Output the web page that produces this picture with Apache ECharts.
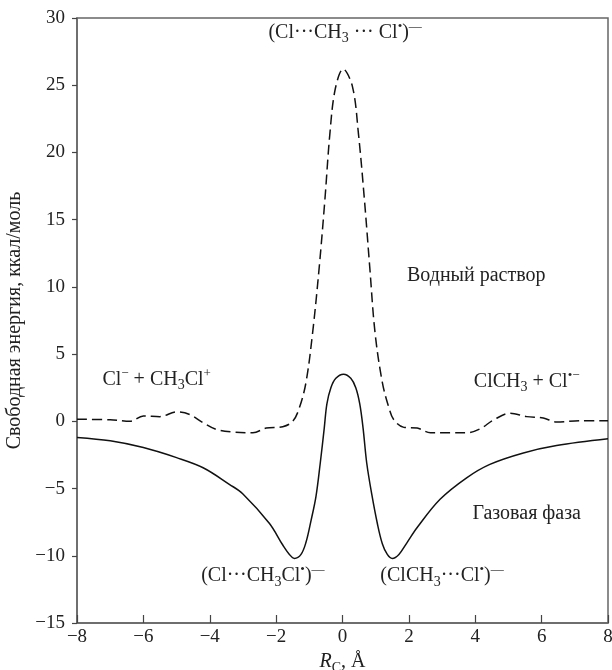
<!DOCTYPE html>
<html>
<head>
<meta charset="utf-8">
<script src="https://cdn.jsdelivr.net/npm/echarts@6/dist/echarts.min.js"></script>
<style>html,body{margin:0;padding:0;background:#fff}#c{width:612px;height:670px}</style>
</head>
<body>
<div id="c"></div>
<script>
// Aqueous solution (dashed)
var aqX = [-8, -7, -6.4, -6.0, -5.5, -5.0, -4.6, -4.2, -3.8, -3.3, -2.7, -2.3, -1.8, -1.5, -1.3, -1.1, -0.9, -0.7, -0.53, -0.38, -0.22, 0.02, 0.3, 0.48, 0.66, 0.82, 0.98, 1.2, 1.4, 1.55, 1.85, 2.25, 2.65, 3.25, 3.75, 4.15, 4.55, 5.05, 5.55, 6.05, 6.45, 7.15, 8];
var aqY = [0.15, 0.12, 0.0, 0.4, 0.35, 0.7, 0.5, -0.1, -0.6, -0.8, -0.85, -0.5, -0.4, 0.0, 1.0, 2.9, 6.6, 11.5, 16.5, 21.4, 24.7, 26.2, 24.9, 21.4, 16.5, 11.5, 6.6, 2.9, 1.0, 0.1, -0.45, -0.5, -0.85, -0.85, -0.85, -0.55, 0.1, 0.6, 0.35, 0.25, -0.05, 0.05, 0.05];
// Gas phase (solid)
var gasX = [-8, -7, -6, -5, -4.2, -3.4, -3.0, -2.2, -1.8, -1.6, -1.45, -1.25, -1.1, -0.95, -0.8, -0.67, -0.55, -0.47, -0.35, -0.2, 0.03, 0.25, 0.4, 0.52, 0.62, 0.73, 0.88, 1.05, 1.2, 1.35, 1.5, 1.7, 1.95, 2.25, 2.94, 3.74, 4.44, 5.45, 6.45, 8];
var gasY = [-1.2, -1.45, -1.95, -2.7, -3.45, -4.7, -5.4, -7.6, -9.2, -9.9, -10.2, -9.9, -9.0, -7.4, -5.6, -3.1, -0.5, 1.3, 2.5, 3.2, 3.5, 3.2, 2.5, 1.3, -0.5, -3.1, -5.4, -7.6, -9.1, -9.9, -10.2, -9.9, -9.0, -7.9, -5.8, -4.2, -3.2, -2.35, -1.8, -1.3];

var xTicks = [-8, -6, -4, -2, 0, 2, 4, 6, 8];
var yTicks = [-15, -10, -5, 0, 5, 10, 15, 20, 25, 30];

// Annotations (text, anchored in data coordinates)
var annText = [
  '{n|(Cl···CH}{sub|3}{n| ··· Cl}{sup|•}{n|)}{sup|—}',
  '{n|Водный раствор}',
  '{n|Cl}{sup|−}{n| + CH}{sub|3}{n|Cl}{sup|+}',
  '{n|ClCH}{sub|3}{n| + Cl}{sup|•−}',
  '{n|Газовая фаза}',
  '{n|(Cl···CH}{sub|3}{n|Cl}{sup|•}{n|)}{sup|—}',
  '{n|(ClCH}{sub|3}{n|···Cl}{sup|•}{n|)}{sup|—}'
];
var annX = [0.08, 4.03, -5.6, 5.55, 5.55, -2.4, 3.0];
var annY = [28.9, 10.8, 3.1, 2.95, -6.9, -11.5, -11.5];

var FONT = 'Liberation Serif';
var rich = {
  n: {fontFamily: FONT, fontSize: 20, color: '#222', lineHeight: 26, verticalAlign: 'middle'},
  sub: {fontFamily: FONT, fontSize: 14, color: '#222', lineHeight: 16, verticalAlign: 'bottom'},
  sup: {fontFamily: FONT, fontSize: 13, color: '#222', lineHeight: 16, verticalAlign: 'top'},
  i: {fontFamily: FONT, fontSize: 20, color: '#222', fontStyle: 'italic', lineHeight: 26, verticalAlign: 'middle'}
};

function zip(a, b) { return a.map(function (v, i) { return [v, b[i]]; }); }
function fmt(v) { return String(v).replace('-', '\u2212'); }

var chart = echarts.init(document.getElementById('c'), null, {renderer: 'canvas'});
var axisLine = {show: true, onZero: false, lineStyle: {color: '#666', width: 1.5}};
chart.setOption({
  animation: false,
  backgroundColor: '#fff',
  grid: {left: 77, right: 4, top: 18, bottom: 47, outerBoundsMode: 'none', containLabel: false,
         show: true, borderColor: '#666', borderWidth: 1.5, backgroundColor: 'transparent'},
  xAxis: {
    type: 'value', min: xTicks[0], max: xTicks[xTicks.length - 1], interval: 2,
    axisLine: axisLine,
    axisTick: {show: true, inside: true, length: 8, lineStyle: {color: '#444', width: 1.2}},
    axisLabel: {margin: 5, fontFamily: FONT, fontSize: 19, color: '#222', formatter: fmt},
    splitLine: {show: false},
    name: '{i|R}{sub|C}{n|, Å}', nameLocation: 'middle', nameGap: 25,
    nameTextStyle: {rich: rich}
  },
  yAxis: {
    type: 'value', min: yTicks[0], max: yTicks[yTicks.length - 1], interval: 5,
    axisLine: axisLine,
    axisTick: {show: true, inside: false, length: 5, lineStyle: {color: '#444', width: 1.2}},
    axisLabel: {margin: 12, fontFamily: FONT, fontSize: 19, color: '#222', formatter: fmt},
    splitLine: {show: false},
    name: 'Свободная энергия, ккал/моль', nameLocation: 'middle', nameGap: 48,
    nameTextStyle: {fontFamily: FONT, fontSize: 20, color: '#222'}
  },
  series: [
    {type: 'line', data: zip(aqX, aqY), smooth: 0.35, symbol: 'none',
     lineStyle: {color: '#111', width: 1.5, type: [10, 5]}},
    {type: 'line', data: zip(gasX, gasY), smooth: 0.35, symbol: 'none',
     lineStyle: {color: '#111', width: 1.5, type: 'solid'}}
  ]
});

var g = annText.map(function (t, i) {
  var p = chart.convertToPixel({gridIndex: 0}, [annX[i], annY[i]]);
  return {type: 'text', x: p[0], y: p[1], z: 100,
    style: {text: t, rich: rich, align: 'center', verticalAlign: 'middle', fill: '#222', font: '20px ' + FONT}};
});
chart.setOption({graphic: g});
</script>
</body>
</html>
